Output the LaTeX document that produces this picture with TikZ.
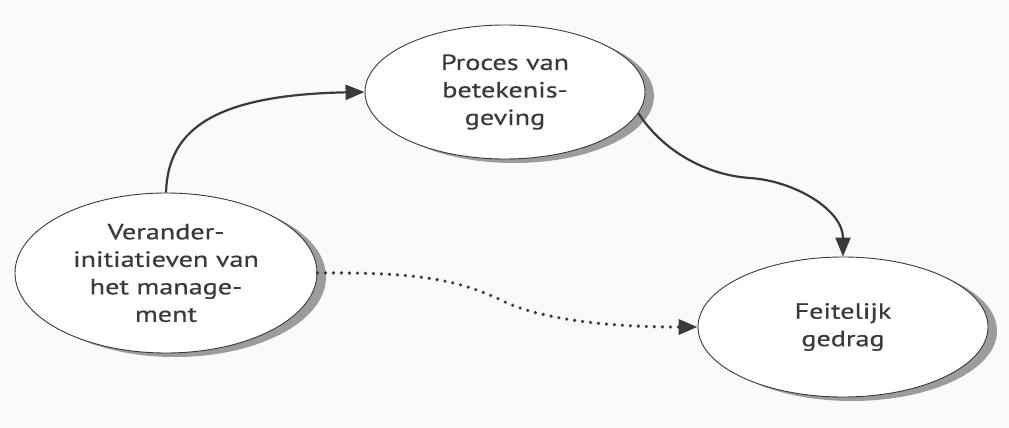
\documentclass[tikz,border=0pt]{standalone}
\usepackage{fontspec}
\setmainfont{PT Sans}[FakeStretch=1.28,FakeBold=0.5]
\usetikzlibrary{shapes.geometric,shadows,arrows.meta}
\definecolor{ink}{HTML}{3A3A3A}
\definecolor{shade}{HTML}{9C9C9C}
\definecolor{paper}{HTML}{FAFAF8}
\tikzset{
  bubble/.style={ellipse, draw=ink, line width=0.9pt, fill=white, inner sep=0pt,
    text=ink, align=center, font=\fontsize{22}{27.5}\selectfont,
    drop shadow={shadow xshift=9pt, shadow yshift=-4pt, fill=shade, opacity=1}},
  flow/.style={draw=ink, line width=2.2pt, -{Triangle[length=19pt,width=15pt]}},
  hint/.style={draw=ink, line width=3.6pt, line cap=round, dash pattern=on 0pt off 8pt,
    -{Triangle[length=19pt,width=15pt,line cap=butt]}},
}
\begin{document}
\begin{tikzpicture}[x=1pt,y=-1pt]
\fill[paper] (0,0) rectangle (1009,428);
\useasboundingbox (0,0) rectangle (1009,428);
\node[bubble, minimum width=302pt, minimum height=160pt] (L) at (166,273)
  {Verander-\\initiatieven van\\het manage-\\ment};
\node[bubble, minimum width=280pt, minimum height=134pt] (T) at (505,92)
  {Proces van\\betekenis-\\geving};
\node[bubble, minimum width=290pt, minimum height=140pt] (B) at (843,327)
  {Feitelijk\\gedrag};
\draw[flow] (L.north) .. controls (168,135) and (205,95) .. (T.west);
\draw[flow] (T.-9) .. controls (662,150) and (705,175) .. (750,178)
  .. controls (795,181) and (843,210) .. (B.north);
\draw[hint] (L.east) .. controls (420,272) and (460,280) .. (505,302)
  .. controls (540,318) and (600,327) .. (B.west);
\end{tikzpicture}
\end{document}
